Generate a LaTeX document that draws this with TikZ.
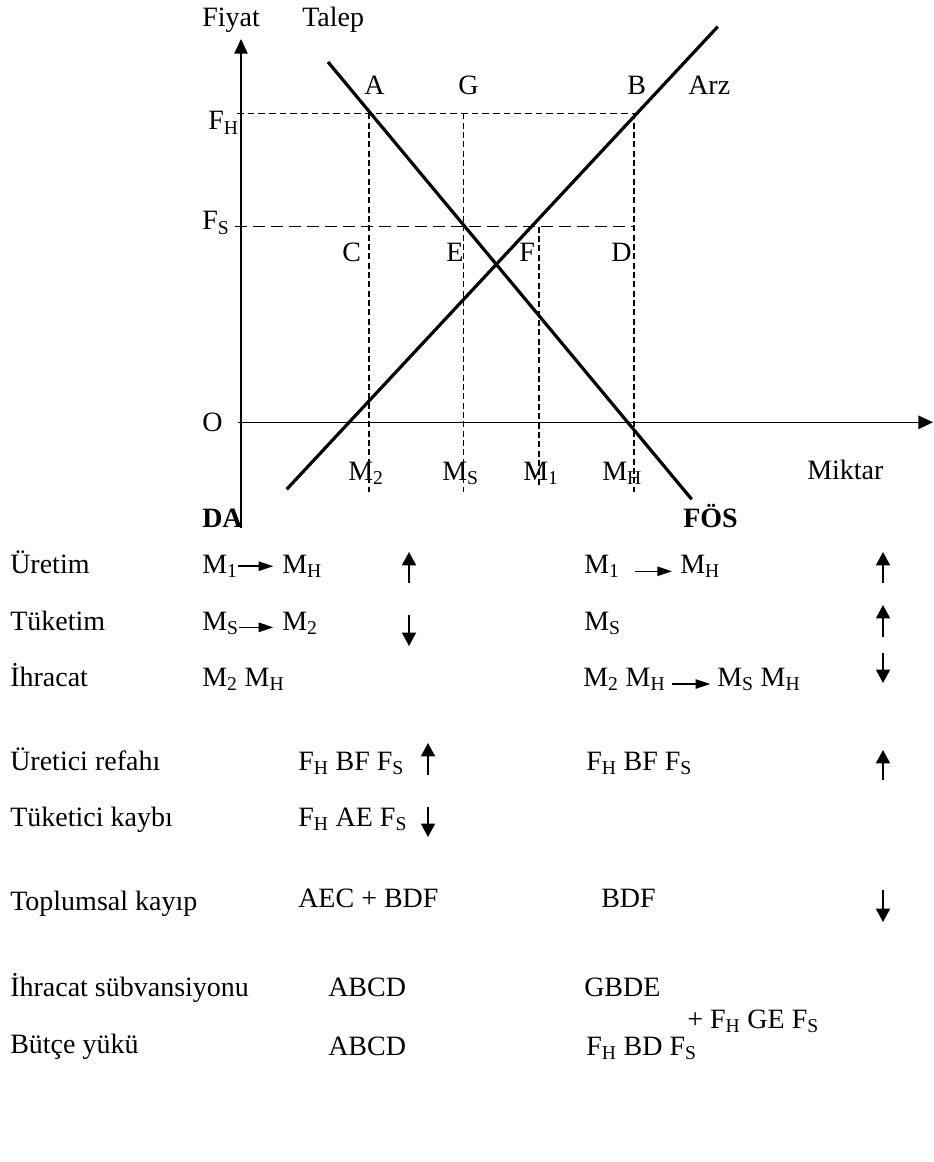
\documentclass[tikz,border=0pt]{standalone}
\usepackage{fontspec}
\setmainfont{Liberation Serif}
\usetikzlibrary{arrows.meta}
\newcommand{\lowix}[1]{\textsubscript{#1}}
\tikzset{
  axis line/.style={
    line width=1.2pt,
    -{Triangle[length=11pt,width=10pt]}
  },
  curve line/.style={
    line width=2.4pt
  },
  level line/.style={
    line width=1pt,
    dash pattern=on 5pt off 3pt
  },
  wide level/.style={
    line width=1pt,
    dash pattern=on 9pt off 4.5pt
  },
  drop line/.style={
    line width=1pt,
    dash pattern=on 4.5pt off 2.5pt
  },
  lbl/.style={
    inner sep=0pt,
    anchor=base west
  },
  flow arrow/.style={
    line width=1.2pt,
    -{Triangle[length=11pt,width=7pt]}
  },
  trend arrow/.style={
    line width=1.2pt,
    -{Triangle[length=10pt,width=10.5pt]}
  }
}

\begin{document}
\begin{tikzpicture}[x=0.75pt, y=-0.75pt, font=\fontsize{21}{25}\selectfont]
    \useasboundingbox (0,0) rectangle (933,1162);

    % 1. eksenler
    \coordinate (O) at (241,422.3);
    \coordinate (ytop) at (241,39);
    \coordinate (ybot) at (241,528);
    \coordinate (xbeg) at (238,422.3);
    \coordinate (xend) at (933,422.3);
    \draw[line width=1.2pt] (O) -- (ybot);
    \draw[axis line] (O) -- (ytop);
    \draw[axis line] (xbeg) -- (xend);

    % 2. noktalar
    \coordinate (fh) at (237,113.3);
    \coordinate (fs) at (235,226.7);
    \coordinate (A) at (369,113.3);
    \coordinate (G) at (463.7,113.3);
    \coordinate (B) at (634,113.3);
    \coordinate (D) at (634,226.7);
    \coordinate (F) at (539,226.7);
    \coordinate (m2) at (369,492);
    \coordinate (mS) at (463.7,492);
    \coordinate (m1) at (539,485);
    \coordinate (mH) at (634,492);

    % 3. kesikli cizgiler
    \draw[level line] (fh) -- (B);
    \draw[wide level] (fs) -- (D);
    \draw[drop line] (A) -- (m2);
    \draw[drop line] (G) -- (mS);
    \draw[drop line] (F) -- (m1);
    \draw[drop line] (B) -- (mH);

    % 4. talep ve arz
    \coordinate (dtop) at (328,62);
    \coordinate (dbot) at (691.7,499.3);
    \coordinate (stop) at (717.7,26.7);
    \coordinate (sbot) at (286.7,489.3);
    \draw[curve line] (dtop) -- (dbot);
    \draw[curve line] (sbot) -- (stop);

    % 5. grafik etiketleri
    \node[lbl] (fiyat) at (202,27) {Fiyat};
    \node[lbl] (talep) at (302,27) {Talep};
    \node[lbl] (arz) at (688,95) {Arz};
    \node[lbl] (lA) at (364,95) {A};
    \node[lbl] (lG) at (458,95) {G};
    \node[lbl] (lB) at (627,95) {B};
    \node[lbl] (lC) at (342,262) {C};
    \node[lbl] (lE) at (446,262) {E};
    \node[lbl] (lF) at (519,262) {F};
    \node[lbl] (lD) at (611,262) {D};
    \node[lbl] (lFH) at (208,130) {F\lowix{H}};
    \node[lbl] (lFS) at (202,230) {F\lowix{S}};
    \node[lbl] (lO) at (202,431) {O};
    \node[lbl] (lM2) at (348,480) {M\lowix{2}};
    \node[lbl] (lMS) at (442,480) {M\lowix{S}};
    \node[lbl] (lM1) at (523,480) {M\lowix{1}};
    \node[lbl] (lMH) at (602,480) {M\lowix{H}};
    \node[lbl] (miktar) at (807,479) {Miktar};
    \node[lbl, font=\fontsize{21}{25}\selectfont\bfseries] (da) at (202,527) {DA};
    \node[lbl, font=\fontsize{21}{25}\selectfont\bfseries] (fos) at (683,527) {FÖS};

    % 6. tablo: satir basliklari
    \node[lbl] (uretim) at (10,573.3) {Üretim};
    \node[lbl] (tuketim) at (10,630) {Tüketim};
    \node[lbl] (ihracat) at (10,686.7) {İhracat};
    \node[lbl] (urefah) at (10,770) {Üretici refahı};
    \node[lbl] (tkayip) at (10,826.7) {Tüketici kaybı};
    \node[lbl] (tpkayip) at (10,910) {Toplumsal kayıp};
    \node[lbl] (subv) at (10,996.7) {İhracat sübvansiyonu};
    \node[lbl] (butce) at (10,1053.3) {Bütçe yükü};

    % 7. DA sutunu
    \node[lbl] (da1a) at (202,573.3) {M\lowix{1}};
    \node[lbl] (da1b) at (282,573.3) {M\lowix{H}};
    \node[lbl] (da2a) at (202,630) {M\lowix{S}};
    \node[lbl] (da2b) at (282,630) {M\lowix{2}};
    \node[lbl] (da3) at (202,686.7) {M\lowix{2} M\lowix{H}};
    \node[lbl] (da4) at (298,770) {F\lowix{H} BF F\lowix{S}};
    \node[lbl] (da5) at (298,826.7) {F\lowix{H} AE F\lowix{S}};
    \node[lbl] (da6) at (298,907) {AEC + BDF};
    \node[lbl] (da7) at (328,996.7) {ABCD};
    \node[lbl] (da8) at (328,1055) {ABCD};
    \draw[flow arrow, shorten >=6.5pt] (da1a.east) -- (da1b.west);
    \draw[flow arrow, shorten >=6.5pt] ([yshift=2pt]da2a.base east) -- ([yshift=2pt]da2b.base west);

    % 8. FOS sutunu
    \node[lbl] (fo1a) at (584,573.3) {M\lowix{1}};
    \node[lbl] (fo1b) at (680,573.3) {M\lowix{H}};
    \node[lbl] (fo2) at (584,630) {M\lowix{S}};
    \node[lbl] (fo3a) at (583,686.7) {M\lowix{2} M\lowix{H}};
    \node[lbl] (fo3b) at (717,686.7) {M\lowix{S} M\lowix{H}};
    \node[lbl] (fo4) at (586,770) {F\lowix{H} BF F\lowix{S}};
    \node[lbl] (fo6) at (601,907) {BDF};
    \node[lbl] (fo7) at (584,996.7) {GBDE};
    \node[lbl] (fo7b) at (687,1028) {+ F\lowix{H} GE F\lowix{S}};
    \node[lbl] (fo8) at (586,1055) {F\lowix{H} BD F\lowix{S}};
    \draw[flow arrow, shorten <=11pt, shorten >=6pt] ([yshift=1.5pt]fo1a.base east) -- ([yshift=1.5pt]fo1b.base west);
    \draw[flow arrow, shorten <=5pt, shorten >=5pt] ([yshift=2pt]fo3a.base east) -- ([yshift=2pt]fo3b.base west);

    % 9. yon oklari
    \coordinate (t1s) at (409,583);   \coordinate (t1e) at (409,552);
    \coordinate (t2s) at (409,615);   \coordinate (t2e) at (409,646);
    \coordinate (t4s) at (428,775);   \coordinate (t4e) at (428,743);
    \coordinate (t5s) at (428,807);   \coordinate (t5e) at (428,837);
    \coordinate (r1s) at (883,583);   \coordinate (r1e) at (883,552);
    \coordinate (r2s) at (883,637);   \coordinate (r2e) at (883,605);
    \coordinate (r3s) at (883,653);   \coordinate (r3e) at (883,683);
    \coordinate (r4s) at (883,780);   \coordinate (r4e) at (883,750);
    \coordinate (r6s) at (883,890);   \coordinate (r6e) at (883,922);
    \foreach \s/\e in {t1s/t1e, t2s/t2e, t4s/t4e, t5s/t5e, r1s/r1e, r2s/r2e, r3s/r3e, r4s/r4e, r6s/r6e}
      \draw[trend arrow] (\s) -- (\e);

\end{tikzpicture}
\end{document}
